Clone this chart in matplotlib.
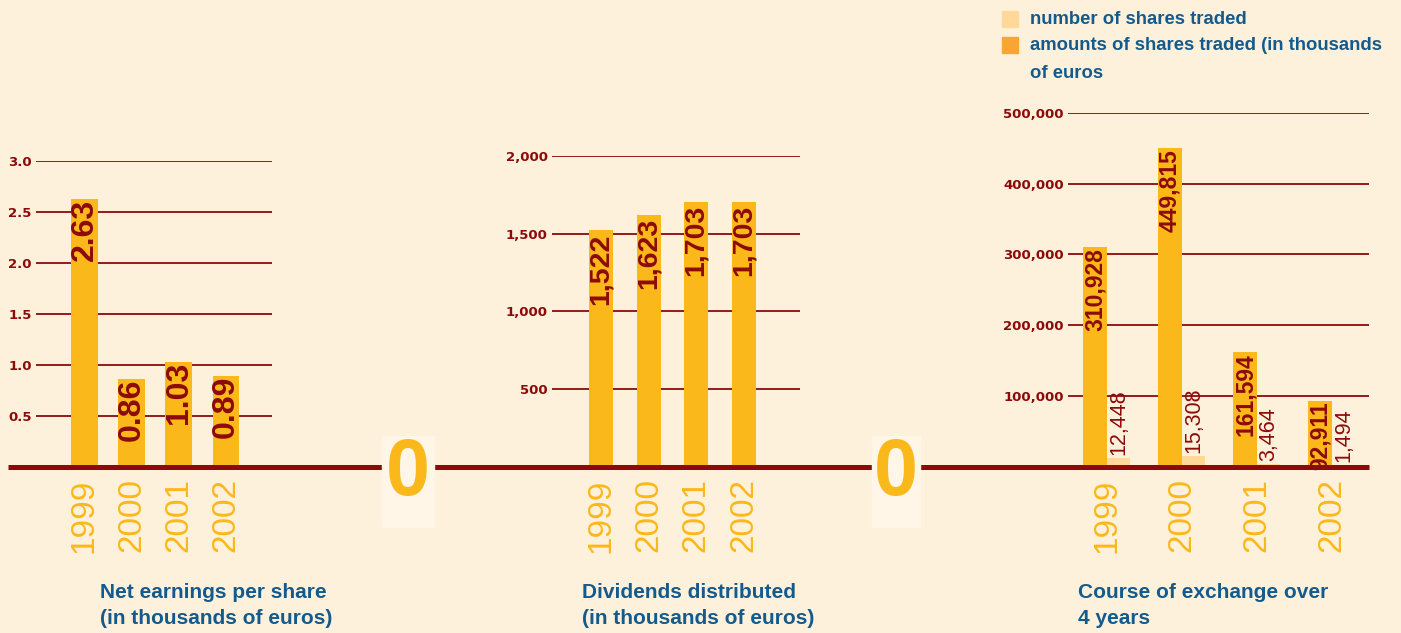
import matplotlib
matplotlib.use("Agg")
import matplotlib.pyplot as plt
from matplotlib.patches import Rectangle
from matplotlib.lines import Line2D

# data ------------------------------------------------
years = ["1999", "2000", "2001", "2002"]

earnings = [2.63, 0.86, 1.03, 0.89]
earnings_labels = ["2.63", "0.86", "1.03", "0.89"]
earnings_ticks = [0.5, 1.0, 1.5, 2.0, 2.5, 3.0]

dividends = [1522, 1623, 1703, 1703]
dividends_ticks = [500, 1000, 1500, 2000]

amounts = [310928, 449815, 161594, 92911]
shares = [12448, 15308, 3464, 1494]
exchange_ticks = [100000, 200000, 300000, 400000, 500000]

legend_labels = ["number of shares traded",
                 "amounts of shares traded (in thousands\nof euros"]
titles = [("Net earnings per share", "(in thousands of euros)"),
          ("Dividends distributed", "(in thousands of euros)"),
          ("Course of exchange over", "4 years")]

# style -----------------------------------------------
BG = "#fef1dc"
RED = "#8c0a0a"
ORANGE = "#fbb81a"
LIGHT = "#ffd89a"
BLUE = "#145a8c"
SANS = ["Liberation Sans", "DejaVu Sans"]

W, H = 1401, 633
BASE = 466.5

fig = plt.figure(figsize=(W / 100, H / 100), dpi=100)
fig.patch.set_facecolor(BG)


def make_axes(x0, x1, ytop, ymax, ticks, fmt, xlim):
    ax = fig.add_axes([x0 / W, (H - BASE) / H, (x1 - x0) / W, (BASE - ytop) / H])
    ax.set_facecolor("none")
    ax.set_ylim(0, ymax)
    ax.set_xlim(*xlim)
    for s in ax.spines.values():
        s.set_visible(False)
    ax.set_xticks([])
    ax.set_yticks(ticks)
    ax.set_yticklabels([fmt(t) for t in ticks], family="DejaVu Sans",
                       fontweight="bold", fontsize=9.5, color=RED)
    ax.tick_params(axis="y", length=0, pad=3)
    for t in ticks:
        ax.axhline(t, color=RED, lw=1.3, zorder=0)
    return ax


def year_labels(ax, xs):
    for x, y in zip(xs, years):
        ax.annotate(y, (x, 0), xycoords=("data", "axes fraction"),
                    xytext=(0, -12), textcoords="offset pixels",
                    rotation=90, ha="center", va="top", color=ORANGE,
                    family=SANS, fontsize=24, annotation_clip=False)


# panel 1: net earnings
ax1 = make_axes(36, 272, 161, 3.0, earnings_ticks, lambda t: f"{t:.1f}",
                (-1.028, 3.975))
x1 = range(len(years))
ax1.bar(x1, earnings, width=0.57, color=ORANGE, zorder=2)
for x, v, lab in zip(x1, earnings, earnings_labels):
    ax1.text(x, v, lab, rotation=90, ha="center", va="top", color=RED,
             family=SANS, fontweight="bold", fontsize=23, zorder=3)
year_labels(ax1, x1)

# panel 2: dividends
ax2 = make_axes(552, 800, 156, 2000, dividends_ticks, lambda t: f"{t:,}",
                (-1.032, 4.189))
x2 = range(len(years))
ax2.bar(x2, dividends, width=0.505, color=ORANGE, zorder=2)
for x, v in zip(x2, dividends):
    ax2.annotate(f"{v:,}", (x, v), xytext=(0, -3), textcoords="offset pixels",
                 rotation=90, ha="center", va="top", color=RED,
                 family=SANS, fontweight="bold", fontsize=20.5, zorder=3)
year_labels(ax2, x2)

# panel 3: course of exchange
ax3 = make_axes(1068, 1369, 113, 500000, exchange_ticks, lambda t: f"{t:,}",
                (-0.52, 3.493))
xa = [i - 0.16 for i in range(len(years))]
xs = [i + 0.155 for i in range(len(years))]
ax3.bar(xa, amounts, width=0.32, color=ORANGE, zorder=2)
ax3.bar(xs, shares, width=0.307, color=LIGHT, zorder=2)
for x, v in zip(xa, amounts):
    ax3.annotate(f"{v:,}", (x, v), xytext=(0, -1), textcoords="offset pixels",
                 rotation=90, ha="center", va="top", color=RED,
                 family=SANS, fontweight="bold", fontsize=16.5, zorder=3)
for x, v in zip(xs, shares):
    ax3.annotate(f"{v:,}", (x, v), xytext=(0, 3), textcoords="offset pixels",
                 rotation=90, ha="center", va="bottom", color=RED,
                 family=SANS, fontsize=15.5, zorder=3)
year_labels(ax3, range(len(years)))

# baseline and "0" markers
fig.add_artist(Line2D([8 / W, 1369 / W], [(H - BASE) / H] * 2, color=RED,
                      lw=3.6, solid_capstyle="butt", transform=fig.transFigure,
                      zorder=5))
for bx0, bx1 in [(382, 434), (872, 920)]:
    fig.add_artist(Rectangle((bx0 / W, (H - 527) / H), (bx1 - bx0) / W, 91 / H,
                             transform=fig.transFigure, color="#fff6e8",
                             zorder=6))
    fig.text((bx0 + bx1) / 2 / W, (H - 495) / H, "0", ha="center",
             va="baseline", color=ORANGE, family=SANS, fontweight="bold",
             fontsize=57, zorder=7)

# legend
for (y0, c), lab in zip([(11, LIGHT), (37, "#f9a533")], legend_labels):
    fig.add_artist(Rectangle((1002 / W, (H - y0 - 16) / H), 16 / W, 16 / H,
                             transform=fig.transFigure, color=c))
for y, line in zip([19, 46, 73], "\n".join(legend_labels).split("\n")):
    fig.text(1030 / W, (H - y) / H, line, ha="left", va="center", color=BLUE,
             family=SANS, fontweight="bold", fontsize=13.3)

# titles
for xt, (l1, l2) in zip([100, 582, 1078], titles):
    fig.text(xt / W, (H - 598) / H, l1, ha="left", va="baseline", color=BLUE,
             family=SANS, fontweight="bold", fontsize=15)
    fig.text(xt / W, (H - 624) / H, l2, ha="left", va="baseline", color=BLUE,
             family=SANS, fontweight="bold", fontsize=15)

fig.savefig("out.png", dpi=100, facecolor=BG)
